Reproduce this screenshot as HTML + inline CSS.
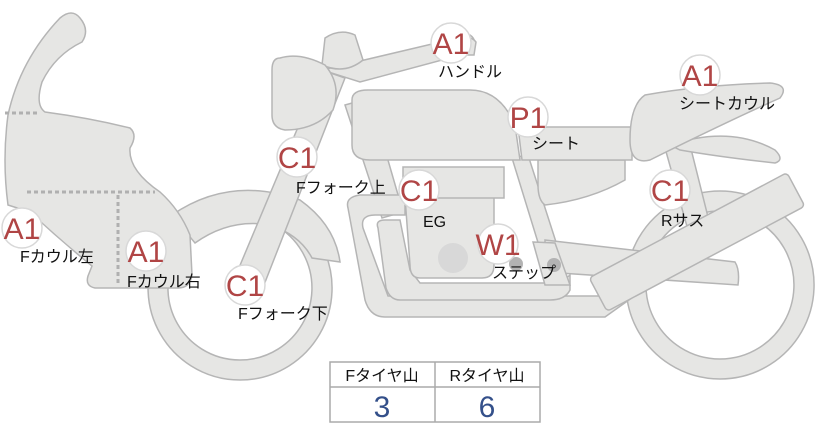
<!DOCTYPE html>
<html><head><meta charset="utf-8"><style>
html,body{margin:0;padding:0;background:#fff;}
svg{display:block;}
.s{fill:#e6e6e4;stroke:#b5b5b5;stroke-width:1.5;}
.b{fill:#fff;stroke:#d8d8d8;stroke-width:1.5;}
.bt{font-family:"Liberation Sans",sans-serif;font-size:30px;fill:#b04545;text-anchor:middle;}
.l{font-family:"Liberation Sans","Noto Sans CJK JP",sans-serif;font-size:16px;fill:#111;}
</style></head><body>
<svg width="822" height="425" viewBox="0 0 822 425" xmlns="http://www.w3.org/2000/svg">
<!-- wheels -->
<path class="s" fill-rule="evenodd" d="M240,196a92,92 0 1,0 0.1,0z M240,216a72,72 0 1,1 -0.1,0z"/>
<path class="s" fill-rule="evenodd" d="M720,191a94,94 0 1,0 0.1,0z M720,211a74,74 0 1,1 -0.1,0z"/>
<!-- front fender -->
<path class="s" d="M172,215 Q230,175 300,200 Q335,225 340,262 L312,258 Q300,235 270,225 Q230,218 195,243 Z"/>
<!-- front cowl -->
<path class="s" d="M60,18 Q72,8 80,18 Q90,30 82,42 Q55,55 42,82 Q35,105 45,112 Q90,118 130,128 Q138,135 130,148 Q128,170 160,192 Q180,210 190,235 L192,275 Q190,288 178,288 L95,288 Q85,286 88,276 L92,266 Q60,240 30,212 L8,205 Q2,160 8,115 Q20,60 60,18 Z"/>
<path d="M5,113 H40 M27,192 H155 M118,195 V285" stroke="#b0b0b0" stroke-width="3" stroke-dasharray="4,3" fill="none"/>
<!-- fork & frame -->
<path class="s" d="M233,282 L322,70 L345,78 L262,290 Z"/>
<path class="s" d="M345,105 L370,98 L403,212 L382,218 Z"/>
<path class="s" d="M322,70 L470,35 Q478,40 472,52 L360,82 Z"/>
<path class="s" d="M325,38 Q340,28 355,35 L363,60 Q345,75 322,65 Z"/>
<path class="s" d="M280,58 Q300,52 325,65 Q342,85 333,110 Q315,130 285,130 Q272,128 272,115 V70 Q272,58 280,58 Z"/>
<path class="s" d="M445,42 Q470,33 476,42 L474,55 L450,55 Z"/>
<!-- rear frame -->
<path class="s" d="M665,148 L690,145 L710,225 L688,230 Z"/>
<path class="s" d="M512,158 L528,155 L565,270 L548,275 Z"/>
<!-- swingarm -->
<path class="s" d="M545,240 L735,262 Q740,270 738,285 L545,272 Z"/>
<!-- exhaust -->
<path class="s" d="M348,208 Q345,197 360,195 H405 V215 H375 Q360,215 363,228 L388,296 L600,296 L640,270 L650,285 L605,317 L385,317 Q370,317 365,300 Z"/>
<path class="s" d="M378,228 Q375,220 385,220 H400 L410,270 L420,283 L560,283 L570,275 L570,290 Q565,300 550,300 H400 Q390,300 386,288 Z"/>
<!-- engine -->
<path class="s" d="M405,197 H494 V265 Q494,278 482,278 H420 Q410,278 410,265 Z"/>
<path class="s" d="M403,167 H504 V198 H403 Z"/>
<circle cx="453" cy="258" r="15" fill="#d8d8d8"/>
<!-- steps -->
<path class="s" d="M533,242 L555,243 L570,285 L545,285 Z"/>
<circle cx="516" cy="264" r="7" fill="#b3b3b3"/>
<circle cx="554" cy="265" r="7" fill="#b3b3b3"/>
<!-- tank -->
<path class="s" d="M352,100 Q352,90 368,90 H470 Q500,90 515,125 L520,160 H370 Q352,160 352,145 Z"/>
<!-- seat area -->
<path class="s" d="M538,160 H625 L625,180 Q590,200 545,205 Q538,200 538,185 Z"/>
<path class="s" d="M518,127 H632 V160 H522 Z"/>
<!-- tail cowl -->
<path class="s" d="M670,145 Q730,125 775,150 Q785,160 775,163 Q720,157 680,150 Z"/>
<path class="s" d="M645,95 Q700,85 770,83 Q790,85 780,98 Q720,125 650,160 Q630,165 630,140 Q630,105 645,95 Z"/>
<!-- muffler -->
<g transform="translate(697,242) rotate(-28)">
<rect class="s" x="-112" y="-19" width="224" height="38" rx="4"/>
</g>
<!-- badges -->
<g>
<circle class="b" cx="451" cy="43" r="20"/><text class="bt" x="451" y="54">A1</text>
<text class="l" x="438" y="77">ハンドル</text>
<circle class="b" cx="700" cy="75" r="20"/><text class="bt" x="700" y="86">A1</text>
<text class="l" x="679" y="109">シートカウル</text>
<circle class="b" cx="528" cy="117" r="20"/><text class="bt" x="528" y="128">P1</text>
<text class="l" x="532" y="149">シート</text>
<circle class="b" cx="297" cy="157" r="20"/><text class="bt" x="297" y="168">C1</text>
<text class="l" x="296" y="193">Fフォーク上</text>
<circle class="b" cx="419" cy="190" r="20"/><text class="bt" x="419" y="201">C1</text>
<text class="l" x="423" y="227">EG</text>
<circle class="b" cx="670" cy="190" r="20"/><text class="bt" x="670" y="201">C1</text>
<text class="l" x="661" y="226">Rサス</text>
<circle class="b" cx="22" cy="228" r="20"/><text class="bt" x="22" y="239">A1</text>
<text class="l" x="20" y="262">Fカウル左</text>
<circle class="b" cx="146" cy="251" r="20"/><text class="bt" x="146" y="262">A1</text>
<text class="l" x="127" y="287">Fカウル右</text>
<circle class="b" cx="245" cy="285" r="20"/><text class="bt" x="245" y="296">C1</text>
<text class="l" x="238" y="319">Fフォーク下</text>
<circle class="b" cx="498" cy="244" r="20"/><text class="bt" x="498" y="255">W1</text>
<text class="l" x="492" y="278">ステップ</text>
</g>
<!-- table -->
<rect x="330" y="362" width="210" height="60" fill="#fff" stroke="#aaa" stroke-width="1.5"/>
<line x1="330" y1="387" x2="540" y2="387" stroke="#aaa" stroke-width="1.5"/>
<line x1="435" y1="362" x2="435" y2="422" stroke="#aaa" stroke-width="1.5"/>
<text class="l" x="382" y="381" text-anchor="middle">Fタイヤ山</text>
<text class="l" x="487" y="381" text-anchor="middle">Rタイヤ山</text>
<text x="382" y="417" text-anchor="middle" font-family="Liberation Sans,sans-serif" font-size="30" fill="#34508a">3</text>
<text x="487" y="417" text-anchor="middle" font-family="Liberation Sans,sans-serif" font-size="30" fill="#34508a">6</text>
</svg>
</body></html>
